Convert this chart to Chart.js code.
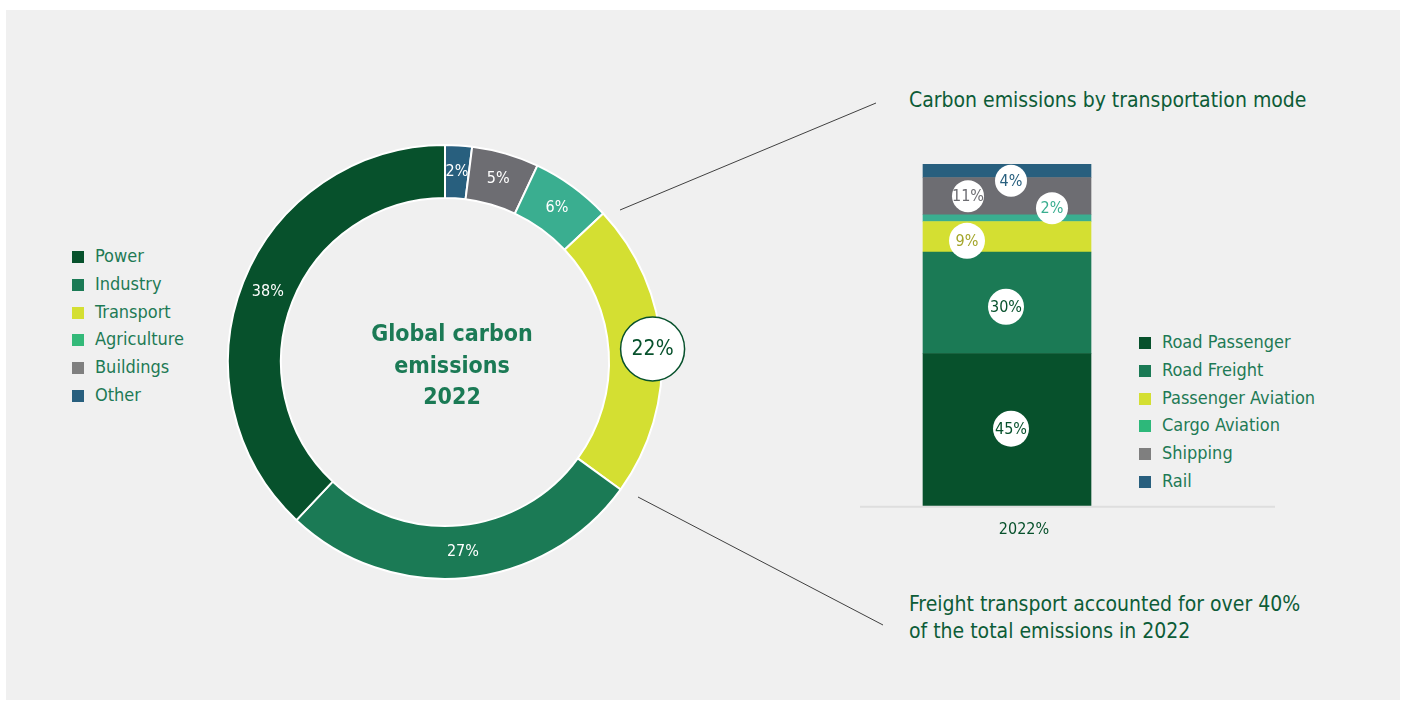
<!DOCTYPE html>
<html>
<head>
<meta charset="utf-8">
<script src="https://cdn.jsdelivr.net/npm/chart.js@4.4.1/dist/chart.umd.min.js"></script>
<style>
  body { margin:0; width:1407px; height:706px; background:#fff; font-family:'DejaVu Sans Condensed','DejaVu Sans',sans-serif; overflow:hidden; }
  #panel { position:absolute; left:6px; top:10px; width:1394px; height:690px; background:#f0f0f0; }
  .legend { position:absolute; margin:0; padding:0; list-style:none; font-size:18px; color:#1e7a55; }
  .legend li { height:27.8px; line-height:27.8px; white-space:nowrap; }
  .legend span { display:inline-block; width:12px; height:12px; margin-right:11px; vertical-align:-1px; }
  #legendLeft { left:72px; top:242px; }
  #legendRight { left:1139px; top:328px; }
  #centerText { position:absolute; left:352px; top:318px; width:200px; text-align:center; font-weight:bold; font-size:23px; line-height:31.5px; color:#1b7a55; }
  .note { position:absolute; left:909px; font-size:21px; line-height:27px; color:#0d5c37; white-space:nowrap; }
  #donutBox { position:absolute; left:195px; top:112px; width:500px; height:500px; }
  #barBox { position:absolute; left:860px; top:150px; width:415px; height:403px; }
  svg { position:absolute; left:0; top:0; }
</style>
</head>
<body>
<div id="panel"></div>
<svg width="1407" height="706">
  <line x1="620" y1="210" x2="876" y2="103" stroke="#404040" stroke-width="1"/>
  <line x1="638" y1="497" x2="883" y2="625" stroke="#404040" stroke-width="1"/>
</svg>
<ul id="legendLeft" class="legend"></ul>
<ul id="legendRight" class="legend"></ul>
<div id="donutBox"><canvas id="donut"></canvas></div>
<div id="barBox"><canvas id="modes"></canvas></div>
<div id="centerText">Global carbon<br>emissions<br>2022</div>
<div class="note" style="top:87px">Carbon emissions by transportation mode</div>
<div class="note" style="top:591px">Freight transport accounted for over 40%<br>of the total emissions in 2022</div>
<script>
// Emisiones globales por sector (orden de la leyenda)
var sectores = ['Power', 'Industry', 'Transport', 'Agriculture', 'Buildings', 'Other'];
var sectorValores = [38, 27, 22, 6, 5, 2];
var sectorColores = ['#07512c', '#1b7a55', '#d4df32', '#3aae90', '#6d6d72', '#285f7e'];
var sectorLeyenda = ['#07512c', '#1b7a55', '#d4df32', '#33b979', '#7f7f7f', '#285f7e'];

// Emisiones del transporte por modo
var anioLabel = ['2022%'];
var modos = ['Road Passenger', 'Road Freight', 'Passenger Aviation', 'Cargo Aviation', 'Shipping', 'Rail'];
var modoValores = [45, 30, 9, 2, 11, 4];
var modoColores = ['#07512c', '#1b7a55', '#d4df32', '#3aae90', '#6d6d72', '#285f7e'];
var modoLeyenda = ['#07512c', '#1b7a55', '#d4df32', '#2db87a', '#7f7f7f', '#285f7e'];
var modoTexto = ['#07512c', '#07512c', '#a3a52a', '#3aae90', '#6d6d72', '#285f7e'];

function leyenda(id, nombres, colores) {
	var ul = document.getElementById(id);
	nombres.forEach(function (n, i) {
		var li = document.createElement('li');
		li.innerHTML = '<span style="background:' + colores[i] + '"></span>' + n;
		ul.appendChild(li);
	});
}
leyenda('legendLeft', sectores, sectorLeyenda);
leyenda('legendRight', modos, modoLeyenda);

var FUENTE = "'DejaVu Sans Condensed','DejaVu Sans',sans-serif";

// etiquetas del anillo
var etiquetasAnillo = {
	id: 'etiquetasAnillo',
	afterDatasetsDraw: function (chart, args, opts) {
		var ctx = chart.ctx;
		var meta = chart.getDatasetMeta(0);
		ctx.save();
		ctx.textAlign = 'center';
		ctx.textBaseline = 'middle';
		meta.data.forEach(function (arc, i) {
			var txt = chart.data.datasets[0].data[i] + '%';
			if (chart.data.labels[i] === opts.destacado) {
				var mid = (arc.startAngle + arc.endAngle) / 2;
				var r = arc.outerRadius - 9;
				var x = arc.x + Math.cos(mid) * r;
				var y = arc.y + Math.sin(mid) * r;
				ctx.beginPath();
				ctx.arc(x, y, 32, 0, Math.PI * 2);
				ctx.fillStyle = '#fff';
				ctx.fill();
				ctx.lineWidth = 1.5;
				ctx.strokeStyle = '#07512c';
				ctx.stroke();
				ctx.fillStyle = '#07512c';
				ctx.font = '21px ' + FUENTE;
				ctx.fillText(txt, x, y + 1);
			} else {
				var p = arc.tooltipPosition();
				ctx.fillStyle = '#fff';
				ctx.font = '16px ' + FUENTE;
				ctx.fillText(txt, p.x, p.y);
			}
		});
		ctx.restore();
	}
};

new Chart(document.getElementById('donut'), {
	type: 'doughnut',
	data: {
		labels: sectores.slice().reverse(),
		datasets: [{
			data: sectorValores.slice().reverse(),
			backgroundColor: sectorColores.slice().reverse(),
			borderColor: '#ffffff',
			borderWidth: 2
		}]
	},
	options: {
		responsive: true,
		maintainAspectRatio: false,
		animation: false,
		radius: 217,
		cutout: '75.6%',
		plugins: {
			legend: { display: false },
			tooltip: { enabled: false },
			etiquetasAnillo: { destacado: 'Transport' }
		}
	},
	plugins: [etiquetasAnillo]
});

// circulos blancos sobre la barra
var etiquetasBarra = {
	id: 'etiquetasBarra',
	afterDatasetsDraw: function (chart, args, opts) {
		var ctx = chart.ctx;
		ctx.save();
		ctx.textAlign = 'center';
		ctx.textBaseline = 'middle';
		ctx.font = '16px ' + FUENTE;
		chart.data.datasets.forEach(function (ds, i) {
			var el = chart.getDatasetMeta(i).data[0];
			var d = opts.desplazar[i];
			var x = el.x + d[0];
			var y = (el.y + el.base) / 2 + d[1];
			ctx.beginPath();
			ctx.arc(x, y, opts.radios[i], 0, Math.PI * 2);
			ctx.fillStyle = '#fff';
			ctx.fill();
			ctx.fillStyle = opts.colores[i];
			ctx.fillText(ds.data[0] + '%', x, y + 1);
		});
		ctx.restore();
	}
};

// linea base, mas larga que el area de la barra
var lineaBase = {
	id: 'lineaBase',
	beforeDatasetsDraw: function (chart) {
		var a = chart.chartArea;
		var ctx = chart.ctx;
		ctx.save();
		ctx.strokeStyle = '#dedede';
		ctx.lineWidth = 2;
		ctx.beginPath();
		ctx.moveTo(a.left, a.bottom + 1);
		ctx.lineTo(chart.width, a.bottom + 1);
		ctx.stroke();
		ctx.restore();
	}
};

new Chart(document.getElementById('modes'), {
	type: 'bar',
	data: {
		labels: anioLabel,
		datasets: modos.map(function (m, i) {
			return {
				label: m,
				data: [modoValores[i]],
				backgroundColor: modoColores[i],
				barThickness: 168
			};
		})
	},
	options: {
		responsive: true,
		maintainAspectRatio: false,
		animation: false,
		layout: { padding: { top: 14, right: 121, left: 0, bottom: 0 } },
		scales: {
			x: {
				stacked: true,
				grid: { display: false, drawTicks: false },
				border: { display: false },
				ticks: { color: '#07512c', font: { size: 16, family: FUENTE }, padding: 14, labelOffset: 17 }
			},
			y: {
				stacked: true,
				display: false,
				min: 0,
				max: 101
			}
		},
		plugins: {
			legend: { display: false },
			tooltip: { enabled: false },
			etiquetasBarra: {
				desplazar: [[4, -1], [-1, 4], [-40, 4], [45, -10], [-39, 0], [4, 10]],
				radios: [18, 18, 18, 16, 16, 16],
				colores: modoTexto
			}
		}
	},
	plugins: [etiquetasBarra, lineaBase]
});
</script>
</body>
</html>
